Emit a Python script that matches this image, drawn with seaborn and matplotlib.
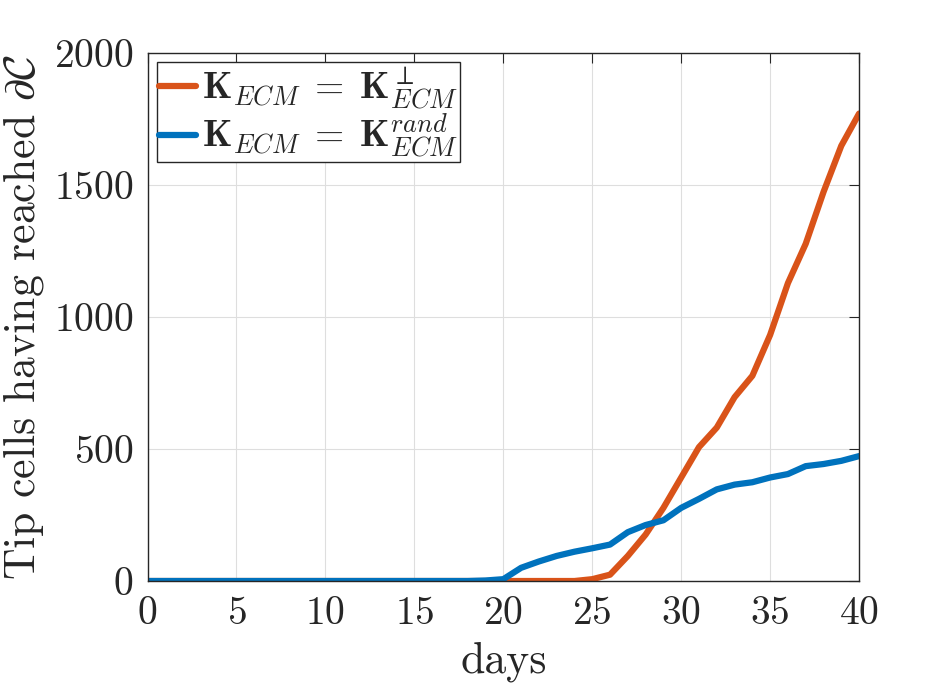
import numpy as np
import pandas as pd
import matplotlib
matplotlib.use("Agg")
import matplotlib.pyplot as plt
import seaborn as sns

# data
days = list(range(0, 41))
perp = [0] * 25 + [7, 24, 95, 176, 277, 392, 507, 581, 696, 777, 932,
                   1128, 1277, 1473, 1648, 1770]
rand = [0] * 19 + [2, 7, 50, 74, 95, 111, 124, 138, 185, 212, 230, 277,
                   311, 347, 365, 374, 392, 405, 435, 443, 455, 473]
labels = [r"$\mathbf{K}_{ECM}\;=\;\mathbf{K}_{ECM}^{\perp}$",
          r"$\mathbf{K}_{ECM}\;=\;\mathbf{K}_{ECM}^{rand}$"]
colors = ["#D95319", "#0072BD"]
xticks = [0, 5, 10, 15, 20, 25, 30, 35, 40]
yticks = [0, 500, 1000, 1500, 2000]

sns.set_style("white")
plt.rcParams["font.family"] = ["cmr10", "DejaVu Serif"]
plt.rcParams["mathtext.fontset"] = "cm"
plt.rcParams["axes.unicode_minus"] = False
plt.rcParams["axes.formatter.use_mathtext"] = True

df = pd.DataFrame({"days": days * 2,
                   "n": perp + rand,
                   "case": [labels[0]] * len(days) + [labels[1]] * len(days)})

fig = plt.figure(figsize=(9.5, 6.95), dpi=100)
ax = fig.add_axes([0.1553, 0.164, 0.749, 0.76])

for lab, col in zip(labels, colors):
    sns.lineplot(data=df[df["case"] == lab], x="days", y="n", color=col,
                 linewidth=4.5, label=lab, ax=ax)

fs_tick, fs_lab, fs_leg = 28.5, 31.5, 27
ax.set_xlim(0, 40)
ax.set_ylim(0, 2000)
ax.set_xticks(xticks)
ax.set_yticks(yticks)
ax.grid(True, color="#dedede", linewidth=0.8)
ax.set_axisbelow(True)
for s in ax.spines.values():
    s.set_color("#262626")
    s.set_linewidth(1.0)
ax.tick_params(direction="in", length=7, width=0.8, top=True, right=True,
               labelsize=fs_tick, colors="#262626")
ax.tick_params(axis="x", pad=11)
ax.tick_params(axis="y", pad=10)
ax.set_xlabel("days", fontsize=fs_lab, color="#262626", labelpad=7)
ax.set_ylabel(r"Tip cells having reached $\partial\mathcal{C}$", fontsize=fs_lab,
              color="#262626", labelpad=6)

leg = ax.legend(loc="upper left", fontsize=fs_leg, frameon=True, fancybox=False,
                handlelength=1.0, handletextpad=0.15, borderpad=0.05,
                labelspacing=0.0, borderaxespad=0.25)
leg.get_frame().set_edgecolor("#262626")
leg.get_frame().set_linewidth(1.0)
leg.get_frame().set_alpha(1)

fig.savefig("out.png", dpi=100)
